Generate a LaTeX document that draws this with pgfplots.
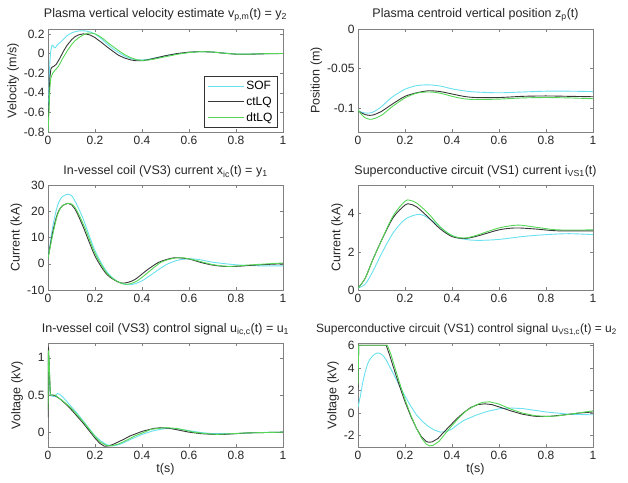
\documentclass[border=0pt]{standalone}
\usepackage{pgfplots}
\pgfplotsset{compat=1.18}
\usepackage{fontspec}
\setmainfont{Liberation Sans}
\definecolor{sofc}{RGB}{105,225,238}
\definecolor{ctc}{RGB}{55,55,55}
\definecolor{dtc}{RGB}{85,215,85}
\pgfplotsset{
  panel/.style={
    scale only axis, width=235pt, xmin=0, xmax=1,
    xtick={0,0.2,0.4,0.6,0.8,1},
    tick align=inside, major tick length=3pt,
    axis line style={draw=black!50},
    every tick/.style={black!50},
    tick label style={font=\fontsize{12}{14}\selectfont, text=black!85},
    label style={font=\fontsize{12.5}{14}\selectfont, text=black!85},
    title style={font=\fontsize{12.5}{14}\selectfont, text=black!85, yshift=-2pt},
    /pgf/number format/assume math mode=true,
    /pgf/number format/fixed, /pgf/number format/precision=2,
    xticklabel style={yshift=-1pt},
    xlabel style={yshift=3pt},
    ylabel style={yshift=-2pt},
    every axis plot/.append style={line width=0.9pt},
    clip=true,
  },
  sof/.style={sofc},
  ct/.style={ctc},
  dt/.style={dtc},
}
\begin{document}
\begin{tikzpicture}
\useasboundingbox (0,0) rectangle (628pt,482pt);
% ---------------- Panel 1 ----------------
\begin{axis}[panel, at={(48pt,350pt)}, anchor=south west, height=103pt,
  ymin=-0.8, ymax=0.25, ytick={-0.8,-0.6,-0.4,-0.2,0,0.2},
  title={Plasma vertical velocity estimate v\textsubscript{p,m}(t) = y\textsubscript{2}},
  ylabel={Velocity (m/s)},
  legend style={at={(0.977,0.042)}, anchor=south east, draw=black!80, fill=white,
    font=\fontsize{12}{13}\selectfont, row sep=2pt, inner xsep=3pt, inner ysep=2.5pt},
  legend cell align=left,
  legend image code/.code={\draw[#1] (0pt,0pt) -- (36pt,0pt);},
]
\addplot[sof] coordinates {(0,-0.75)(0.004,-0.35)(0.008,-0.08)(0.012,0.03)(0.017,0.085)(0.022,0.08)(0.027,0.06)(0.032,0.06)(0.04,0.09)(0.05,0.11)(0.06,0.13)(0.07,0.155)(0.08,0.18)(0.09,0.195)(0.1,0.21)(0.115,0.222)(0.13,0.23)(0.145,0.232)(0.16,0.23)(0.18,0.22)(0.2,0.2)(0.225,0.155)(0.25,0.1)(0.275,0.05)(0.3,0.01)(0.325,-0.025)(0.35,-0.05)(0.375,-0.064)(0.4,-0.066)(0.425,-0.06)(0.45,-0.048)(0.5,-0.024)(0.55,-0.003)(0.6,0.012)(0.65,0.02)(0.7,0.015)(0.75,0.004)(0.8,-0.005)(0.85,-0.006)(0.9,-0.003)(0.95,0)(1,0)};
\addplot[ct] coordinates {(0,-0.75)(0.004,-0.5)(0.008,-0.25)(0.012,-0.16)(0.016,-0.14)(0.025,-0.13)(0.035,-0.11)(0.05,-0.05)(0.065,0.02)(0.08,0.08)(0.1,0.14)(0.115,0.172)(0.13,0.19)(0.15,0.2)(0.165,0.197)(0.18,0.188)(0.2,0.162)(0.225,0.118)(0.25,0.07)(0.275,0.025)(0.3,-0.018)(0.325,-0.045)(0.35,-0.064)(0.375,-0.074)(0.4,-0.074)(0.425,-0.064)(0.45,-0.05)(0.5,-0.022)(0.55,0)(0.6,0.014)(0.65,0.02)(0.7,0.015)(0.75,0.003)(0.8,-0.007)(0.85,-0.008)(0.9,-0.004)(0.95,-0.001)(1,0)};
\addplot[dt] coordinates {(0,-0.8)(0.004,-0.6)(0.008,-0.35)(0.012,-0.25)(0.02,-0.2)(0.03,-0.17)(0.045,-0.13)(0.06,-0.06)(0.08,0.02)(0.1,0.09)(0.115,0.13)(0.13,0.16)(0.15,0.19)(0.17,0.208)(0.185,0.208)(0.2,0.2)(0.215,0.183)(0.235,0.15)(0.26,0.1)(0.28,0.065)(0.3,0.03)(0.325,-0.01)(0.35,-0.04)(0.375,-0.062)(0.4,-0.07)(0.425,-0.067)(0.45,-0.058)(0.5,-0.033)(0.55,-0.008)(0.6,0.01)(0.65,0.02)(0.7,0.015)(0.75,0.003)(0.8,-0.006)(0.85,-0.007)(0.9,-0.003)(0.95,0)(1,0)};
\legend{SOF,ctLQ,dtLQ}
\end{axis}
% ---------------- Panel 2 ----------------
\begin{axis}[panel, at={(358pt,350pt)}, anchor=south west, height=103pt,
  ymin=-0.13, ymax=0, ytick={-0.1,-0.05,0},
  title={Plasma centroid vertical position z\textsubscript{p}(t)},
  ylabel={Position (m)}, smooth,
]
\addplot[sof] coordinates {(0,-0.103)(0.015,-0.105)(0.03,-0.106)(0.05,-0.106)(0.07,-0.104)(0.1,-0.098)(0.125,-0.091)(0.15,-0.085)(0.2,-0.076)(0.25,-0.0715)(0.3,-0.0705)(0.35,-0.072)(0.4,-0.0755)(0.45,-0.078)(0.5,-0.0795)(0.6,-0.0805)(0.7,-0.0795)(0.8,-0.0785)(0.9,-0.0785)(1,-0.079)};
\addplot[ct] coordinates {(0,-0.103)(0.015,-0.106)(0.03,-0.108)(0.05,-0.109)(0.07,-0.108)(0.1,-0.104)(0.125,-0.099)(0.15,-0.094)(0.2,-0.085)(0.25,-0.0805)(0.3,-0.078)(0.35,-0.079)(0.4,-0.082)(0.45,-0.085)(0.5,-0.0865)(0.6,-0.0865)(0.7,-0.085)(0.8,-0.0845)(0.9,-0.085)(1,-0.0855)};
\addplot[dt] coordinates {(0,-0.102)(0.015,-0.108)(0.03,-0.112)(0.05,-0.114)(0.07,-0.113)(0.1,-0.109)(0.125,-0.103)(0.15,-0.097)(0.2,-0.087)(0.25,-0.081)(0.3,-0.0795)(0.35,-0.081)(0.4,-0.085)(0.45,-0.088)(0.5,-0.089)(0.6,-0.0885)(0.7,-0.087)(0.8,-0.0865)(0.9,-0.087)(1,-0.088)};
\end{axis}
% ---------------- Panel 3 ----------------
\begin{axis}[panel, at={(48pt,192pt)}, anchor=south west, height=105pt,
  ymin=-10, ymax=30, ytick={-10,0,10,20,30},
  title={In-vessel coil (VS3) current x\textsubscript{ic}(t) = y\textsubscript{1}},
  ylabel={Current (kA)}, smooth,
]
\addplot[sof] coordinates {(0,2)(0.02,14)(0.04,22)(0.06,25.5)(0.085,26.5)(0.1,26)(0.12,23)(0.15,17)(0.2,5)(0.25,-3)(0.3,-7)(0.35,-8)(0.4,-6.5)(0.45,-3.5)(0.5,-0.5)(0.55,1.3)(0.6,1.9)(0.65,1.5)(0.7,0.6)(0.8,-0.4)(0.9,-0.8)(1,-0.8)};
\addplot[ct] coordinates {(0,2)(0.02,12)(0.04,19)(0.06,22)(0.085,23)(0.1,22.5)(0.12,20)(0.15,14)(0.2,3)(0.25,-4)(0.3,-7)(0.33,-7.3)(0.37,-6)(0.42,-2.5)(0.47,0.5)(0.52,2)(0.55,2.3)(0.6,1.8)(0.65,0.5)(0.7,-0.5)(0.75,-1)(0.8,-1)(0.9,-0.4)(1,0)};
\addplot[dt] coordinates {(0,2)(0.02,11)(0.04,18.5)(0.06,22)(0.09,23)(0.11,22)(0.13,19)(0.16,13)(0.2,4)(0.25,-3.5)(0.3,-7)(0.34,-7.8)(0.38,-6.5)(0.43,-3)(0.48,0.5)(0.53,2)(0.57,2.3)(0.62,1.5)(0.7,-0.3)(0.77,-1)(0.85,-0.5)(1,0.3)};
\end{axis}
% ---------------- Panel 4 ----------------
\begin{axis}[panel, at={(358pt,192pt)}, anchor=south west, height=105pt,
  ymin=0, ymax=5.5, ytick={0,2,4},
  title={Superconductive circuit (VS1) current i\textsubscript{VS1}(t)},
  ylabel={Current (kA)}, smooth,
]
\addplot[sof] coordinates {(0,0.1)(0.03,0.3)(0.06,0.9)(0.1,1.9)(0.15,3.0)(0.2,3.7)(0.25,3.95)(0.28,3.9)(0.33,3.5)(0.38,3.0)(0.42,2.75)(0.47,2.63)(0.52,2.6)(0.6,2.65)(0.7,2.8)(0.8,2.9)(0.9,2.95)(1,2.9)};
\addplot[ct] coordinates {(0,0.1)(0.03,0.6)(0.06,1.5)(0.1,2.6)(0.15,3.8)(0.2,4.45)(0.22,4.5)(0.25,4.35)(0.3,3.8)(0.35,3.2)(0.4,2.8)(0.45,2.7)(0.5,2.8)(0.6,3.15)(0.67,3.25)(0.75,3.2)(0.85,3.1)(1,3.1)};
\addplot[dt] coordinates {(0,0.1)(0.03,0.6)(0.06,1.5)(0.1,2.6)(0.15,3.9)(0.2,4.65)(0.22,4.7)(0.25,4.55)(0.3,4.0)(0.35,3.3)(0.4,2.85)(0.45,2.72)(0.5,2.85)(0.6,3.25)(0.68,3.4)(0.75,3.3)(0.85,3.15)(1,3.15)};
\end{axis}
% ---------------- Panel 5 ----------------
\begin{axis}[panel, at={(48pt,35pt)}, anchor=south west, height=104pt,
  ymin=-0.2, ymax=1.2, ytick={0,0.5,1},
  title={In-vessel coil (VS3) control signal u\textsubscript{ic,c}(t) = u\textsubscript{1}},
  ylabel={Voltage (kV)}, xlabel={t(s)},
]
\addplot[sof] coordinates {(0,0.9)(0.003,1.0)(0.006,0.7)(0.01,0.5)(0.02,0.48)(0.03,0.48)(0.04,0.52)(0.05,0.51)(0.07,0.45)(0.1,0.34)(0.125,0.25)(0.15,0.15)(0.175,0.05)(0.2,-0.05)(0.225,-0.12)(0.25,-0.17)(0.28,-0.185)(0.31,-0.16)(0.35,-0.1)(0.4,-0.03)(0.45,0.02)(0.5,0.05)(0.55,0.045)(0.6,0.02)(0.65,-0.005)(0.7,-0.02)(0.8,-0.02)(0.9,-0.005)(1,0)};
\addplot[ct] coordinates {(0,0.2)(0.002,1.15)(0.005,0.9)(0.01,0.5)(0.02,0.5)(0.03,0.49)(0.05,0.45)(0.075,0.38)(0.1,0.3)(0.125,0.21)(0.15,0.12)(0.175,0.02)(0.2,-0.08)(0.22,-0.15)(0.24,-0.19)(0.26,-0.185)(0.28,-0.16)(0.32,-0.1)(0.35,-0.05)(0.4,0.01)(0.45,0.05)(0.48,0.06)(0.52,0.05)(0.6,0.0)(0.65,-0.02)(0.7,-0.03)(0.75,-0.03)(0.85,-0.01)(1,0)};
\addplot[dt] coordinates {(0,0.3)(0.002,1.1)(0.005,0.95)(0.01,0.5)(0.02,0.5)(0.03,0.5)(0.05,0.45)(0.075,0.39)(0.1,0.32)(0.125,0.23)(0.15,0.14)(0.175,0.04)(0.2,-0.06)(0.225,-0.14)(0.25,-0.18)(0.27,-0.185)(0.3,-0.16)(0.34,-0.1)(0.37,-0.05)(0.41,0.0)(0.44,0.04)(0.5,0.06)(0.55,0.05)(0.62,0.0)(0.67,-0.02)(0.72,-0.03)(0.85,-0.01)(1,0)};
\end{axis}
% ---------------- Panel 6 ----------------
\begin{axis}[panel, at={(358pt,35pt)}, anchor=south west, height=104pt,
  ymin=-3, ymax=6.2, ytick={-2,0,2,4,6},
  title={Superconductive circuit (VS1) control signal u\textsubscript{VS1,c}(t) = u\textsubscript{2}},
  title style={font=\fontsize{12}{14}\selectfont, xshift=-9pt},
  ylabel={Voltage (kV)}, xlabel={t(s)},
]
\addplot[sof] coordinates {(0,0.5)(0.01,1.5)(0.02,2.7)(0.03,3.6)(0.04,4.3)(0.05,4.75)(0.06,5.0)(0.07,5.2)(0.08,5.3)(0.09,5.3)(0.1,5.2)(0.11,5.0)(0.12,4.7)(0.135,4.1)(0.15,3.5)(0.175,2.5)(0.2,1.5)(0.225,0.6)(0.25,-0.2)(0.275,-0.75)(0.3,-1.2)(0.325,-1.5)(0.35,-1.68)(0.375,-1.65)(0.4,-1.4)(0.425,-1.0)(0.45,-0.65)(0.5,-0.2)(0.55,0.15)(0.6,0.38)(0.65,0.45)(0.7,0.4)(0.75,0.25)(0.8,0.1)(0.85,0)(0.9,-0.1)(0.95,-0.13)(1,-0.15)};
\addplot[ct] coordinates {(0,2)(0.003,6)(0.12,6)(0.135,5.1)(0.15,4.1)(0.175,2.5)(0.2,1.0)(0.225,-0.3)(0.25,-1.4)(0.27,-2.1)(0.29,-2.5)(0.3,-2.58)(0.315,-2.55)(0.34,-2.25)(0.36,-1.8)(0.39,-1.15)(0.42,-0.5)(0.45,0.05)(0.48,0.5)(0.51,0.75)(0.54,0.82)(0.57,0.75)(0.6,0.55)(0.65,0.2)(0.7,-0.1)(0.75,-0.28)(0.78,-0.3)(0.82,-0.28)(0.88,-0.15)(0.94,0.0)(1,0.1)};
\addplot[dt] coordinates {(0,2.5)(0.003,6)(0.125,6)(0.14,5.2)(0.15,4.5)(0.175,2.8)(0.2,1.2)(0.225,-0.2)(0.25,-1.4)(0.27,-2.2)(0.29,-2.75)(0.305,-2.9)(0.32,-2.85)(0.345,-2.5)(0.37,-1.85)(0.4,-1.1)(0.43,-0.4)(0.46,0.2)(0.5,0.7)(0.53,0.95)(0.56,1.0)(0.6,0.8)(0.65,0.35)(0.7,0.0)(0.75,-0.22)(0.8,-0.3)(0.85,-0.25)(0.9,-0.1)(0.95,0.05)(1,0.2)};
\end{axis}
\end{tikzpicture}
\end{document}
